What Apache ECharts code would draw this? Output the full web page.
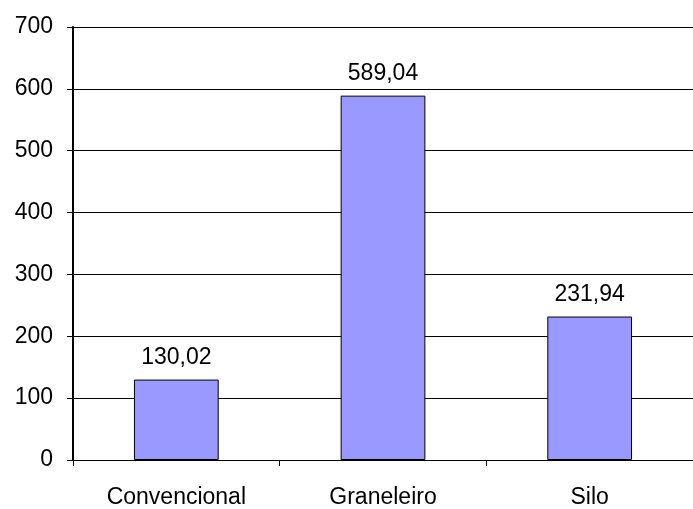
<!DOCTYPE html>
<html><head><meta charset="utf-8">
<script src="https://cdn.jsdelivr.net/npm/echarts@6/dist/echarts.min.js"></script>
<style>html,body{margin:0;padding:0;background:#fff}#c{width:693px;height:509px}</style>
</head><body><div id="c"></div>
<script>
const categories = ['Convencional', 'Graneleiro', 'Silo'];
const values = [130.02, 589.04, 231.94];
const chart = echarts.init(document.getElementById('c'));
chart.setOption({
  animation: false,
  grid: {left: 73, right: 0, top: 27, bottom: 47, containLabel: false},
  xAxis: {
    type: 'category', data: categories,
    axisLine: {lineStyle: {color: '#000', width: 1}},
    axisTick: {show: true, length: 6, lineStyle: {color: '#000'}},
    axisLabel: {color: '#000', fontFamily: 'Liberation Sans', fontSize: 23, margin: 26}
  },
  yAxis: {
    type: 'value', min: 0, max: 700, interval: 100,
    axisLine: {show: true, lineStyle: {color: '#000', width: 2}},
    axisTick: {show: true, length: 6, lineStyle: {color: '#000'}},
    axisLabel: {color: '#000', fontFamily: 'Liberation Sans', fontSize: 23, margin: 20},
    splitLine: {lineStyle: {color: '#000', width: 1}}
  },
  series: [{
    type: 'bar', data: values, barWidth: '41%',
    itemStyle: {color: '#9999FF', borderColor: '#000', borderWidth: 1},
    label: {show: true, position: 'top', distance: 10, color: '#000', fontFamily: 'Liberation Sans', fontSize: 23,
      formatter: p => p.value.toFixed(2).replace('.', ',')}
  }]
});
</script></body></html>
